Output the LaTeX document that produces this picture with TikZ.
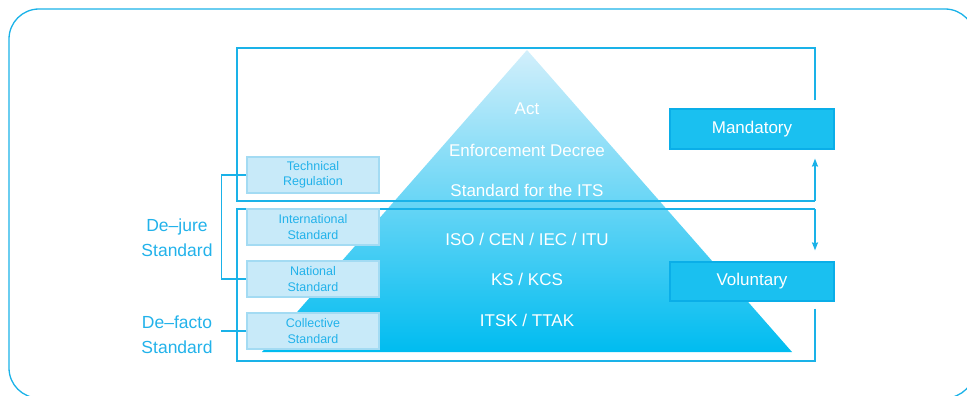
\documentclass[tikz,border=0pt]{standalone}
\usepackage{fontspec}
\setmainfont{Liberation Sans}
\usetikzlibrary{arrows.meta,calc}
\definecolor{cline}{HTML}{1AB2E8}
\definecolor{ctext}{HTML}{22B2EA}
\definecolor{lfill}{HTML}{C8EAF9}
\definecolor{ldraw}{HTML}{A3DBF3}
\definecolor{rfill}{HTML}{1AC0F0}
\definecolor{rdraw}{HTML}{0AAEE8}
\definecolor{tritop}{HTML}{D2EFFB}
\definecolor{tribot}{HTML}{00BCF0}
\tikzset{
  frame/.style={draw=cline, line width=1.5pt},
  lbox/.style={draw=ldraw, fill=lfill, line width=1.2pt, minimum width=132pt, minimum height=36pt,
    text=ctext, align=center, font=\fontsize{12.5}{15.5}\selectfont, inner sep=0pt},
  rbox/.style={draw=rdraw, fill=rfill, line width=1.2pt, minimum width=164pt, minimum height=40pt,
    text=white, font=\fontsize{17}{20}\selectfont, inner sep=0pt},
  ptext/.style={text=white, font=\fontsize{17}{20}\selectfont, inner sep=0pt},
  sidelabel/.style={text=ctext, align=center, font=\fontsize{17.5}{25}\selectfont, inner sep=0pt},
  bracket/.style={draw=cline, line width=1.5pt},
  arr/.style={-{Stealth[length=8pt,width=6pt,inset=1pt]}}
}
\begin{document}
\begin{tikzpicture}[x=1pt,y=-1pt]
\useasboundingbox (0,0) rectangle (967,396);
\begin{scope}
  \clip (0,0) rectangle (967,396);
  \draw[cline, line width=1.3pt, rounded corners=30pt] (9,9) rectangle (975,398);
\end{scope}

% pyramid
\shade[top color=tritop, bottom color=tribot] (527,50) -- (792,352) -- (262,352) -- cycle;

% corner coordinates
\coordinate (ubtl) at (237,48);
\coordinate (ubtr) at (815,48);
\coordinate (ubbl) at (237,201);
\coordinate (ubbr) at (815,201);
\coordinate (lbtl) at (237,209);
\coordinate (lbtr) at (815,209);
\coordinate (lbbl) at (237,361);
\coordinate (lbbr) at (815,361);

% right boxes
\node[rbox] (mand) at (752,129) {Mandatory};
\node[rbox, minimum height=39pt] (vol) at (752,281.5) {Voluntary};

% frames
\draw[frame] ([yshift=8pt]mand.north -| ubtr) -- (ubtr) -- (ubtl) -- (ubbl) -- (ubbr);
\draw[frame,arr] (ubbr) -- ([yshift=-9pt]mand.south -| ubbr);
\draw[frame,arr] (lbtr) -- ([yshift=11pt]vol.north -| lbtr);
\draw[frame] ([yshift=-7pt]vol.south -| lbbr) -- (lbbr) -- (lbbl) -- (lbtl) -- (lbtr);

% left boxes
\node[lbox] (tech) at (313,175) {Technical\\Regulation};
\node[lbox] (intl) at (313,227) {International\\Standard};
\node[lbox] (nat) at (313,279) {National\\Standard};
\node[lbox] (coll) at (313,331) {Collective\\Standard};

% brackets
\draw[bracket] (tech.west) -- ++(-25,0) |- (nat.west);
\draw[bracket] (coll.west) -- ++(-25,0);

% side labels
\node[sidelabel] (dejure) at (177,238) {De–jure\\Standard};
\node[sidelabel] (defacto) at (177,335) {De–facto\\Standard};

% pyramid texts
\node[ptext] (act) at (527,109) {Act};
\node[ptext] (enf) at (527,150) {Enforcement Decree};
\node[ptext] (its) at (527,190) {Standard for the ITS};
\node[ptext] (iso) at (527,239) {ISO / CEN / IEC / ITU};
\node[ptext] (ks) at (527,279) {KS / KCS};
\node[ptext] (itsk) at (527,320) {ITSK / TTAK};
\end{tikzpicture}
\end{document}
